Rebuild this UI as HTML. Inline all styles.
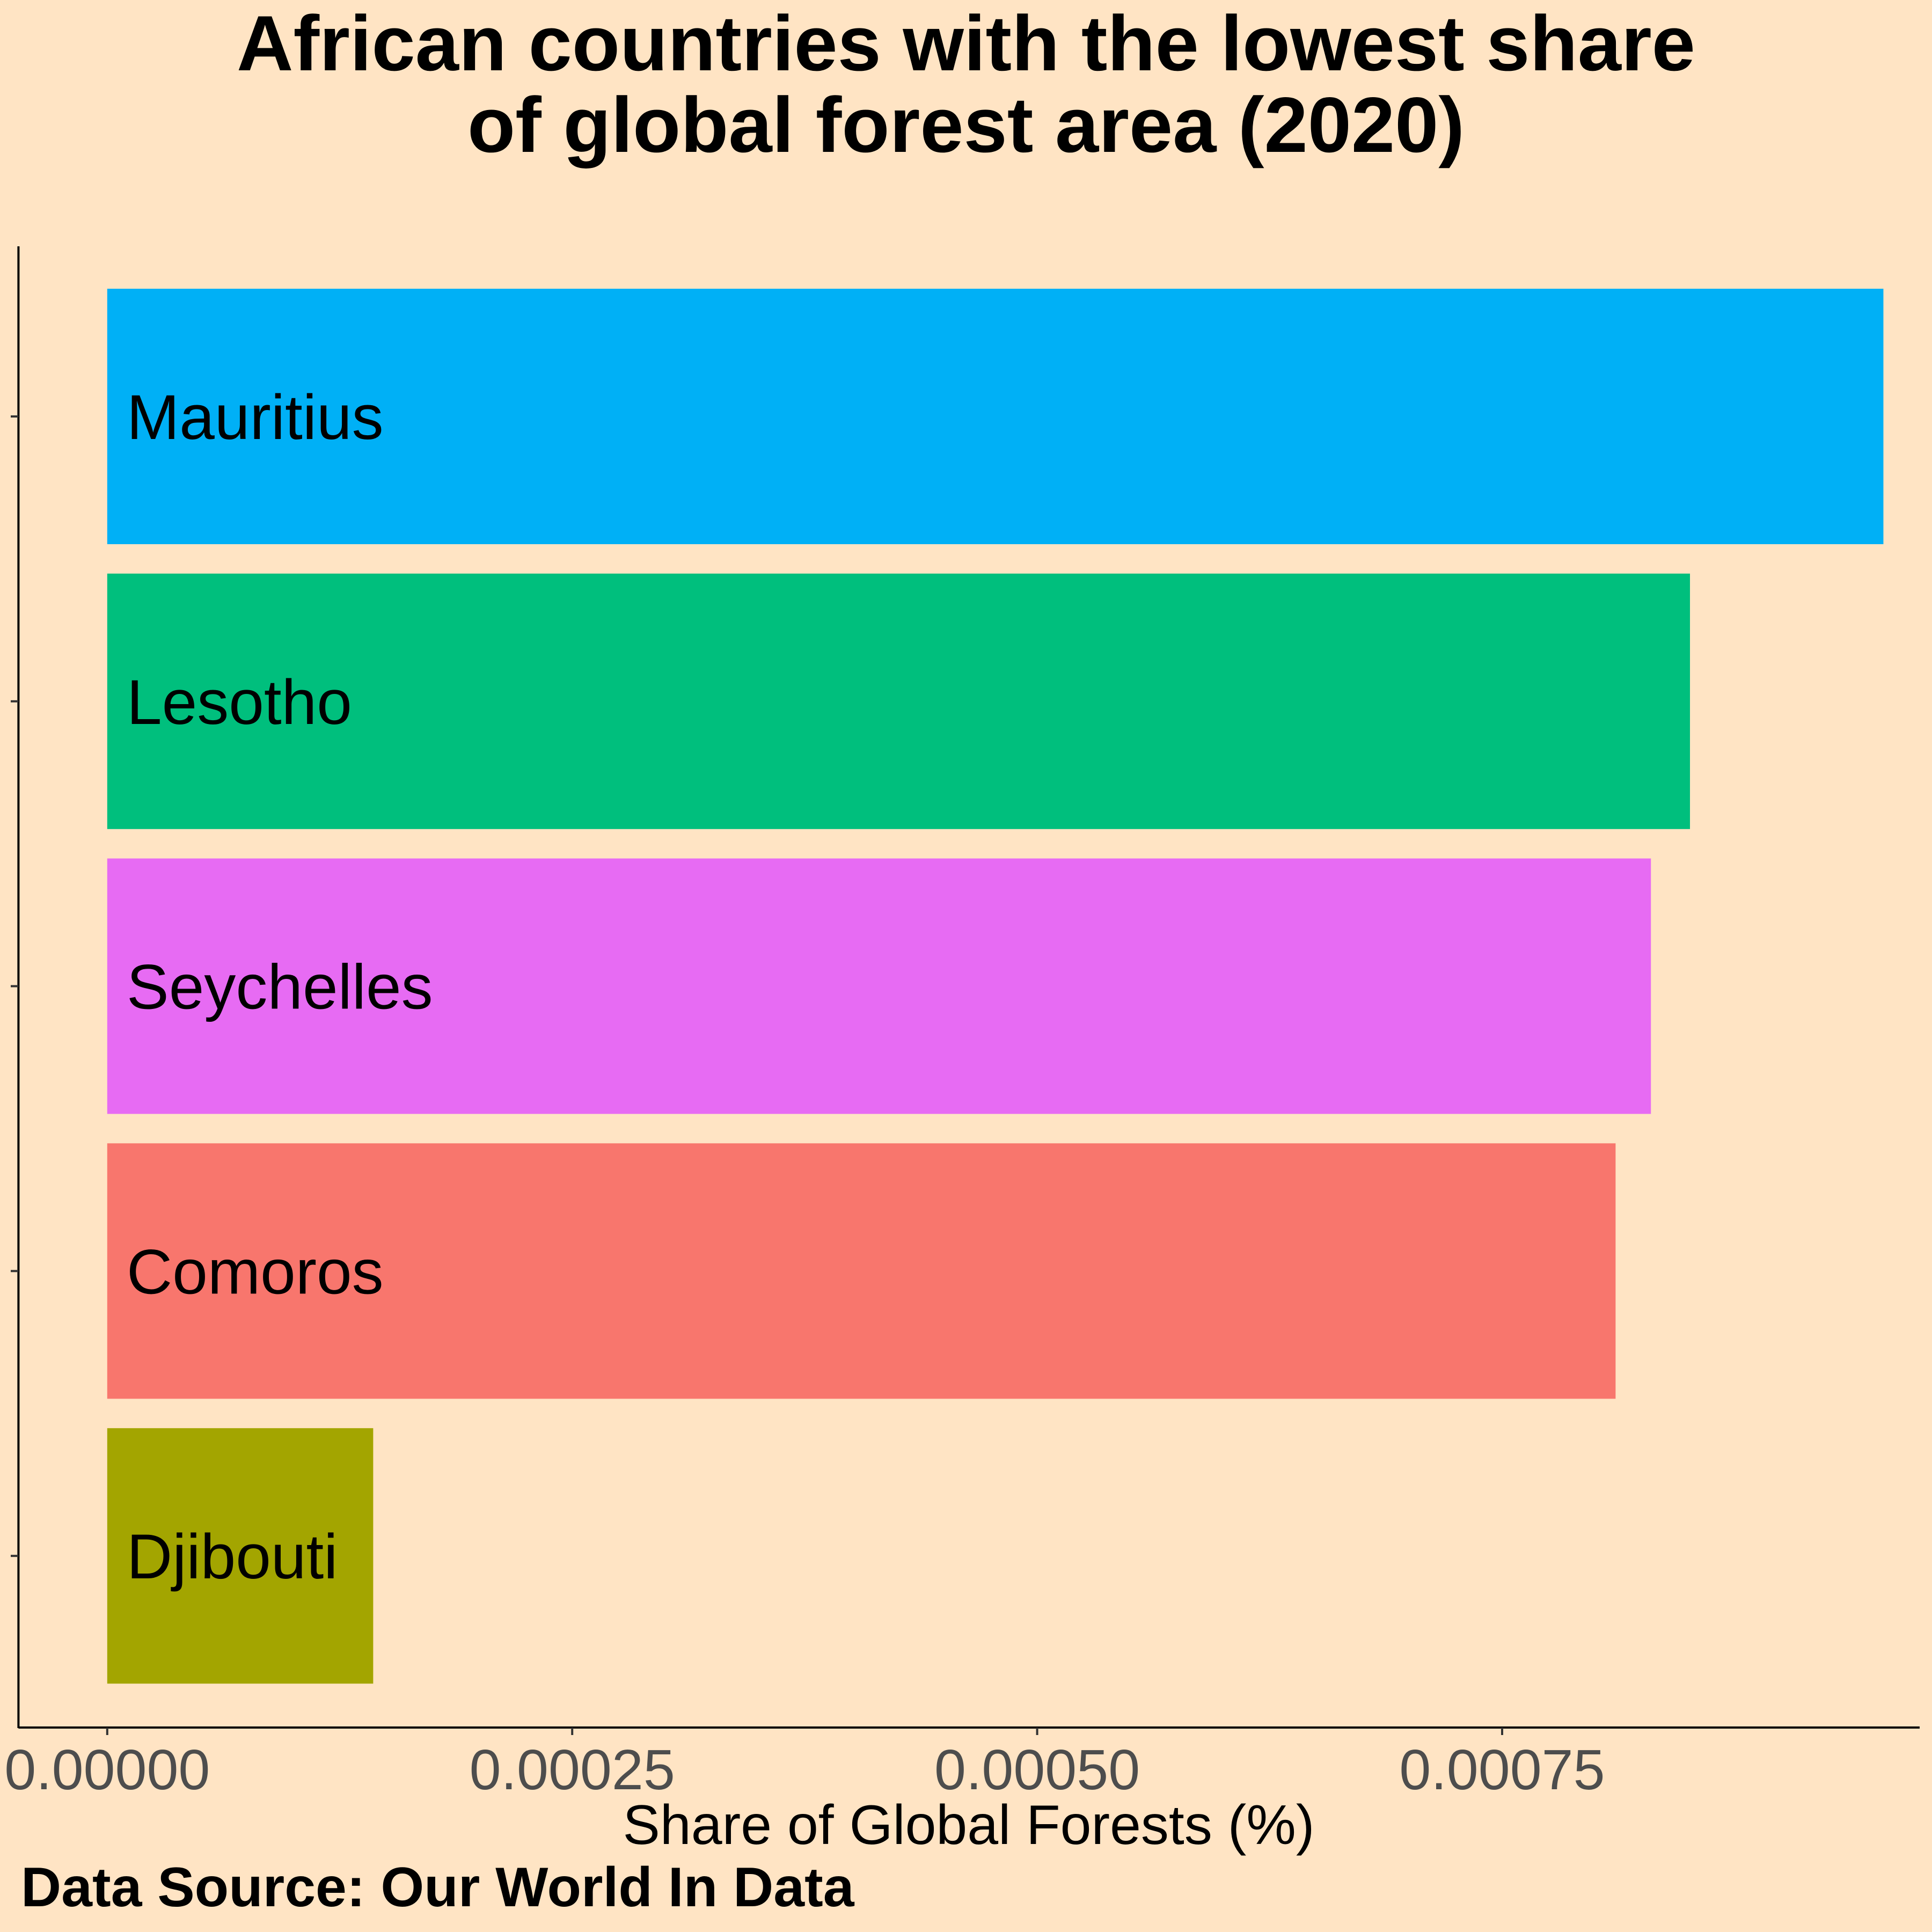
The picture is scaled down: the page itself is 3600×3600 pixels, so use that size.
<!DOCTYPE html>
<html><head><meta charset="utf-8"><style>
html,body{margin:0;padding:0;background:#FFE4C4;}
svg{display:block;font-family:"Liberation Sans",Arial,sans-serif;}
</style></head><body>
<svg id="chart" width="3600" height="3600" viewBox="0 0 3600 3600" xmlns="http://www.w3.org/2000/svg">
<rect x="0" y="0" width="3600" height="3600" fill="#FFE4C4"/>
<text x="1800" y="131" text-anchor="middle" font-size="146" font-weight="bold">African countries with the lowest share</text>
<text x="1800" y="283" text-anchor="middle" font-size="146" font-weight="bold">of global forest area (2020)</text>
<g id="bars"></g>
<line x1="34.4" y1="459" x2="34.4" y2="3220" stroke="#000" stroke-width="4"/>
<line x1="34.4" y1="3219" x2="3577" y2="3219" stroke="#000" stroke-width="4"/>
<g id="xticks"></g>
<g id="yticks"></g>
<text x="1805" y="3436" text-anchor="middle" font-size="104">Share of Global Forests (%)</text>
<text x="39" y="3552" font-size="104" font-weight="bold">Data Source: Our World In Data</text>
</svg>
<script>
const categories = ["Mauritius","Lesotho","Seychelles","Comoros","Djibouti"];
const values = [0.000955,0.000851,0.000830,0.000811,0.000143];
const colors = ["#00B0F6","#00BF7D","#E76BF3","#F8766D","#A3A500"];
const tickValues = [0,0.00025,0.0005,0.00075];
const tickLabels = ["0.00000","0.00025","0.00050","0.00075"];
const NS="http://www.w3.org/2000/svg";
const x0=199.8, pxPer=866.4/0.00025;
function xs(v){return x0+v*pxPer;}
const yTop=776, band=530.8, barH=476;
function ys(i){return yTop+i*band;}
const bars=document.getElementById('bars');
categories.forEach((c,i)=>{
  const r=document.createElementNS(NS,'rect');
  
  
  r.setAttribute('x',xs(0));r.setAttribute('y',ys(i)-barH/2);
  r.setAttribute('width',xs(values[i])-xs(0));r.setAttribute('height',barH);
  r.setAttribute('fill',colors[i]);
  bars.appendChild(r);
  const t=document.createElementNS(NS,'text');
  
  
  t.setAttribute('x',236);t.setAttribute('y',ys(i)+42);
  t.setAttribute('font-size','118');
  t.textContent=c;
  bars.appendChild(t);
  const tk=document.createElementNS(NS,'line');
  
  
  tk.setAttribute('x1',20);tk.setAttribute('x2',34.4);
  tk.setAttribute('y1',ys(i));tk.setAttribute('y2',ys(i));
  tk.setAttribute('stroke','#333');tk.setAttribute('stroke-width','4');
  document.getElementById('yticks').appendChild(tk);
});
const xt=document.getElementById('xticks');
tickValues.forEach((v,i)=>{
  const l=document.createElementNS(NS,'line');
  
  
  l.setAttribute('x1',xs(v));l.setAttribute('x2',xs(v));
  l.setAttribute('y1',3219);l.setAttribute('y2',3233);
  l.setAttribute('stroke','#333');l.setAttribute('stroke-width','4');
  xt.appendChild(l);
  const t=document.createElementNS(NS,'text');
  
  
  t.setAttribute('x',xs(v));t.setAttribute('y',3334);
  t.setAttribute('text-anchor','middle');t.setAttribute('font-size','106');
  t.setAttribute('fill','#4D4D4D');
  t.textContent=tickLabels[i];
  xt.appendChild(t);
});
</script>
</body></html>
